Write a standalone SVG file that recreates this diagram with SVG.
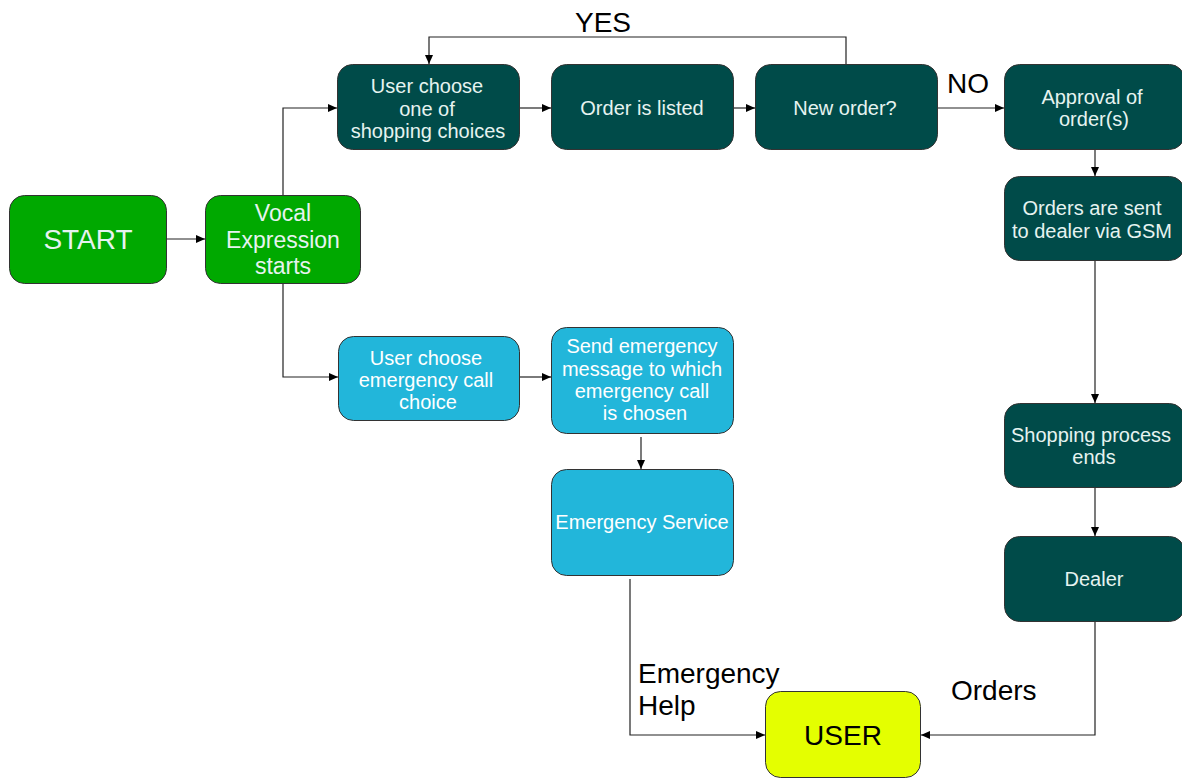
<svg xmlns="http://www.w3.org/2000/svg" width="1182" height="778" viewBox="0 0 1182 778">
<style>
.n{stroke:#333;stroke-width:1}
.teal{fill:#004b49}
.green{fill:#00a900}
.blue{fill:#22b6da}
.yel{fill:#e4ff00}
.t{font-family:"Liberation Sans",Arial,sans-serif;text-anchor:middle;dominant-baseline:central;fill:#e6f3f0;font-size:20px}
.lbl{font-family:"Liberation Sans",Arial,sans-serif;fill:#000;font-size:28px}
.c{fill:none;stroke:#222;stroke-width:1.2}
</style>
<defs>
<marker id="ah" markerWidth="10" markerHeight="10" refX="9" refY="5" orient="auto" markerUnits="userSpaceOnUse">
<path d="M0,1 L9,5 L0,9 z" fill="#000"/>
</marker>
</defs>
<rect width="1182" height="778" fill="#fff"/>
<g id="connectors">
<path class="c" d="M167,239 H205" marker-end="url(#ah)"/>
<path class="c" d="M283,195 V108 H337" marker-end="url(#ah)"/>
<path class="c" d="M283,284 V377 H338" marker-end="url(#ah)"/>
<path class="c" d="M519,108 H551" marker-end="url(#ah)"/>
<path class="c" d="M733,108 H755" marker-end="url(#ah)"/>
<path class="c" d="M846,64 V37 H429 V64" marker-end="url(#ah)"/>
<path class="c" d="M937,108 H1004" marker-end="url(#ah)"/>
<path class="c" d="M1095,149 V176" marker-end="url(#ah)"/>
<path class="c" d="M1095,260 V403" marker-end="url(#ah)"/>
<path class="c" d="M1095,487 V536" marker-end="url(#ah)"/>
<path class="c" d="M1095,621 V735 H921" marker-end="url(#ah)"/>
<path class="c" d="M519,377 H551" marker-end="url(#ah)"/>
<path class="c" d="M641,437 V469" marker-end="url(#ah)"/>
<path class="c" d="M630,579 V735 H765" marker-end="url(#ah)"/>
<text class="lbl" x="603" y="32" text-anchor="middle">YES</text>
<text class="lbl" x="968" y="93" text-anchor="middle">NO</text>
<text class="lbl" x="638" y="683">Emergency</text>
<text class="lbl" x="638" y="715">Help</text>
<text class="lbl" x="951" y="700">Orders</text>
</g>
<g id="start"><rect class="n green" x="9.5" y="195.5" width="157" height="88" rx="15"/><text class="t" x="88" y="239" style="font-size:28px">START</text></g>
<g id="vocal"><rect class="n green" x="205.5" y="195.5" width="155" height="88" rx="15"/><text class="t" style="font-size:23px"><tspan x="283" y="213">Vocal</tspan><tspan x="283" y="240">Expression</tspan><tspan x="283" y="266">starts</tspan></text></g>
<g id="shop"><rect class="n teal" x="337.5" y="64.5" width="182" height="85" rx="15"/><text class="t"><tspan x="427" y="86">User choose</tspan><tspan x="427" y="109">one of</tspan><tspan x="428" y="131">shopping choices</tspan></text></g>
<g id="listed"><rect class="n teal" x="551.5" y="64.5" width="182" height="85" rx="15"/><text class="t" x="642" y="108">Order is listed</text></g>
<g id="neworder"><rect class="n teal" x="755.5" y="64.5" width="182" height="85" rx="15"/><text class="t" x="845" y="108">New order?</text></g>
<g id="approval"><rect class="n teal" x="1004.5" y="64.5" width="180" height="85" rx="15"/><text class="t"><tspan x="1092" y="97">Approval of</tspan><tspan x="1094" y="119">order(s)</tspan></text></g>
<g id="sent"><rect class="n teal" x="1004.5" y="176.5" width="180" height="84" rx="15"/><text class="t"><tspan x="1092" y="208">Orders are sent</tspan><tspan x="1092" y="231">to dealer via GSM</tspan></text></g>
<g id="ends"><rect class="n teal" x="1004.5" y="403.5" width="180" height="84" rx="15"/><text class="t"><tspan x="1091" y="435">Shopping process</tspan><tspan x="1094" y="457">ends</tspan></text></g>
<g id="dealer"><rect class="n teal" x="1004.5" y="536.5" width="180" height="85" rx="15"/><text class="t" x="1094" y="579">Dealer</text></g>
<g id="emchoice"><rect class="n blue" x="338.5" y="336.5" width="181" height="84" rx="15"/><text class="t" style="fill:#fff"><tspan x="426" y="358">User choose</tspan><tspan x="426" y="380">emergency call</tspan><tspan x="428" y="402">choice</tspan></text></g>
<g id="sendem"><rect class="n blue" x="551.5" y="327.5" width="182" height="106" rx="15"/><text class="t" style="fill:#fff"><tspan x="642" y="346">Send emergency</tspan><tspan x="642" y="369">message to which</tspan><tspan x="642" y="391">emergency call</tspan><tspan x="645" y="413">is chosen</tspan></text></g>
<g id="emservice"><rect class="n blue" x="551.5" y="469.5" width="182" height="106" rx="15"/><text class="t" x="642" y="522" style="fill:#fff">Emergency Service</text></g>
<g id="user"><rect class="n yel" x="765.5" y="691.5" width="155" height="86" rx="15"/><text class="t" x="843" y="735" style="fill:#000;font-size:28px">USER</text></g>
</svg>
